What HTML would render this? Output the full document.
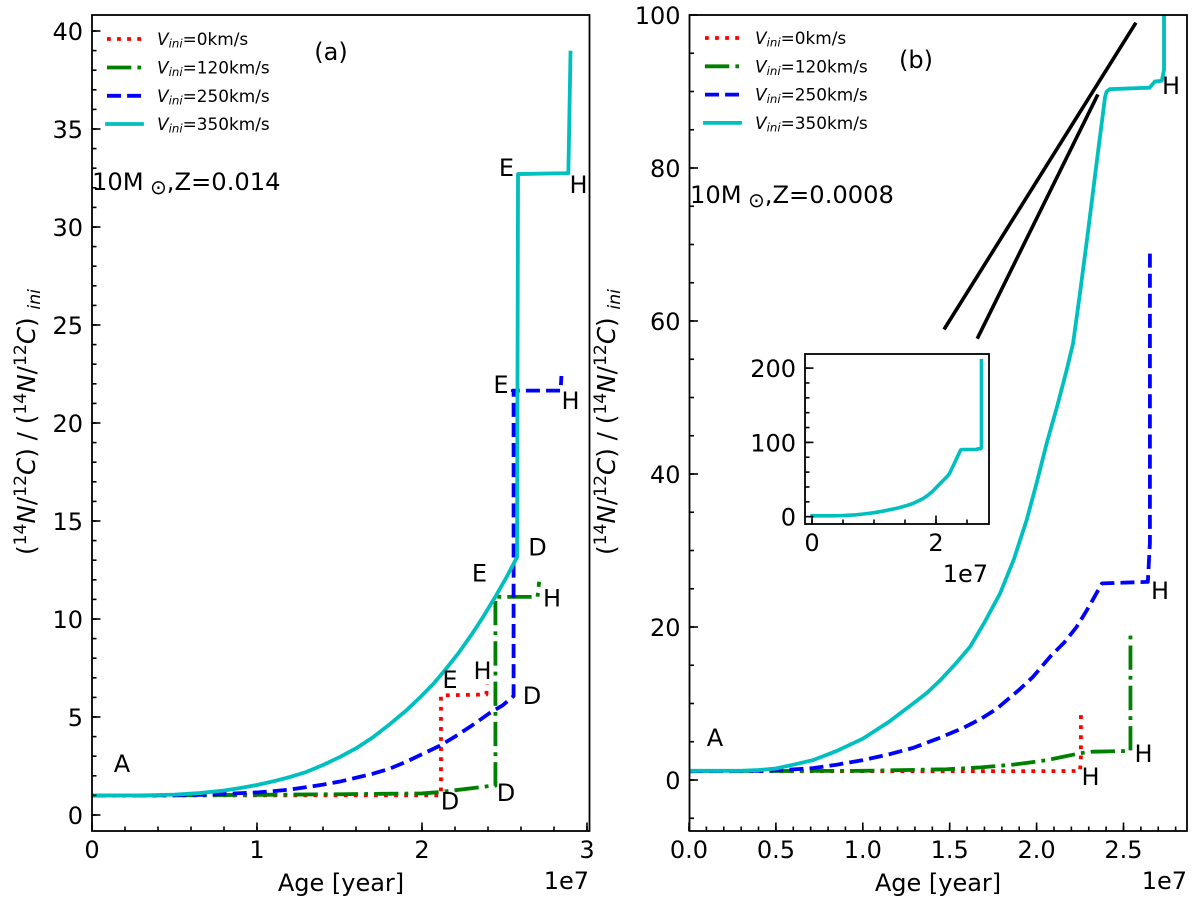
<!DOCTYPE html>
<html lang="en">
<head>
<meta charset="utf-8">
<title>14N/12C ratio vs age</title>
<style>
html,body{margin:0;padding:0;background:#fff;}
svg{display:block;}
text{font-family:"DejaVu Sans","Liberation Sans",sans-serif;fill:#000;}
.tick{font-size:24px;}
.anno{font-size:24px;text-anchor:middle;}
.leg{font-size:16.9px;}
.axl{font-size:24px;}
.yl{font-size:24.6px;}
</style>
</head>
<body>
<svg id="chart" xmlns="http://www.w3.org/2000/svg" width="1200" height="907" viewBox="0 0 1200 907">
  <defs>
    <clipPath id="clip-a"><rect x="92" y="15" width="497" height="816"/></clipPath>
    <clipPath id="clip-b"><rect x="689.5" y="15" width="497.5" height="816"/></clipPath>
    <clipPath id="clip-c"><rect x="805" y="354" width="184" height="170"/></clipPath>
  </defs>
  <g id="panel-a"></g>
  <g id="panel-b"></g>
  <rect x="805" y="354" width="184" height="170" fill="#fff"/>
  <g id="panel-c"></g>

  <g>
    <g>
      <line x1="107" x2="141" y1="39" y2="39" stroke="#ff0000" stroke-width="3.8" stroke-dasharray="3.8 6.27"/>
      <text class="leg" x="157" y="45"><tspan font-style="italic">V</tspan><tspan font-style="italic" font-size="11.8" dy="2.5">ini</tspan><tspan dy="-2.5">=0km/s</tspan></text>
    </g>
    <g>
      <line x1="107" x2="141" y1="67.5" y2="67.5" stroke="#008000" stroke-width="3.8" stroke-dasharray="24.3 6.1 3.8 6.1"/>
      <text class="leg" x="157" y="73.5"><tspan font-style="italic">V</tspan><tspan font-style="italic" font-size="11.8" dy="2.5">ini</tspan><tspan dy="-2.5">=120km/s</tspan></text>
    </g>
    <g>
      <line x1="107" x2="141" y1="95.8" y2="95.8" stroke="#0000ff" stroke-width="3.8" stroke-dasharray="14 6.1"/>
      <text class="leg" x="157" y="101.8"><tspan font-style="italic">V</tspan><tspan font-style="italic" font-size="11.8" dy="2.5">ini</tspan><tspan dy="-2.5">=250km/s</tspan></text>
    </g>
    <g>
      <line x1="107" x2="142" y1="124" y2="124" stroke="#00bfbf" stroke-width="3.8" stroke-linecap="square"/>
      <text class="leg" x="157" y="130"><tspan font-style="italic">V</tspan><tspan font-style="italic" font-size="11.8" dy="2.5">ini</tspan><tspan dy="-2.5">=350km/s</tspan></text>
    </g>
  </g>

  <g>
    <g>
      <line x1="705" x2="739" y1="38" y2="38" stroke="#ff0000" stroke-width="3.8" stroke-dasharray="3.8 6.27"/>
      <text class="leg" x="755" y="44"><tspan font-style="italic">V</tspan><tspan font-style="italic" font-size="11.8" dy="2.5">ini</tspan><tspan dy="-2.5">=0km/s</tspan></text>
    </g>
    <g>
      <line x1="705" x2="739" y1="66.3" y2="66.3" stroke="#008000" stroke-width="3.8" stroke-dasharray="24.3 6.1 3.8 6.1"/>
      <text class="leg" x="755" y="72.3"><tspan font-style="italic">V</tspan><tspan font-style="italic" font-size="11.8" dy="2.5">ini</tspan><tspan dy="-2.5">=120km/s</tspan></text>
    </g>
    <g>
      <line x1="705" x2="739" y1="94.6" y2="94.6" stroke="#0000ff" stroke-width="3.8" stroke-dasharray="14 6.1"/>
      <text class="leg" x="755" y="100.6"><tspan font-style="italic">V</tspan><tspan font-style="italic" font-size="11.8" dy="2.5">ini</tspan><tspan dy="-2.5">=250km/s</tspan></text>
    </g>
    <g>
      <line x1="705" x2="740" y1="122.9" y2="122.9" stroke="#00bfbf" stroke-width="3.8" stroke-linecap="square"/>
      <text class="leg" x="755" y="128.9"><tspan font-style="italic">V</tspan><tspan font-style="italic" font-size="11.8" dy="2.5">ini</tspan><tspan dy="-2.5">=350km/s</tspan></text>
    </g>
  </g>

  <g>
    <text class="anno" x="331" y="60">(a)</text>
    <text font-size="24.2" x="92" y="190">10M<tspan font-size="20" dy="4"> ⊙</tspan><tspan dy="-4">,Z=0.014</tspan></text>
    <text class="anno" x="122" y="772">A</text>
    <text class="anno" x="506.5" y="176">E</text>
    <text class="anno" x="578.5" y="193">H</text>
    <text class="anno" x="501" y="393">E</text>
    <text class="anno" x="570.5" y="409">H</text>
    <text class="anno" x="537.5" y="555.5">D</text>
    <text class="anno" x="479.5" y="581.5">E</text>
    <text class="anno" x="552" y="606.5">H</text>
    <text class="anno" x="450" y="688">E</text>
    <text class="anno" x="482.5" y="679">H</text>
    <text class="anno" x="532" y="704">D</text>
    <text class="anno" x="506" y="801">D</text>
    <text class="anno" x="450" y="809.5">D</text>
  </g>

  <g>
    <text class="anno" x="916" y="68">(b)</text>
    <text font-size="24.2" x="690" y="203">10M<tspan font-size="20" dy="4"> ⊙</tspan><tspan dy="-4">,Z=0.0008</tspan></text>
    <text class="anno" x="715" y="746">A</text>
    <text class="anno" x="1171" y="94">H</text>
    <text class="anno" x="1160" y="599">H</text>
    <text class="anno" x="1143.5" y="762">H</text>
    <text class="anno" x="1090.5" y="785">H</text>
  </g>

  <text class="axl" x="341" y="891" text-anchor="middle">Age [year]</text>
  <text class="axl" x="938" y="891" text-anchor="middle">Age [year]</text>
  <text class="tick" x="589" y="889" text-anchor="end">1e7</text>
  <text class="tick" x="1187" y="889" text-anchor="end">1e7</text>
  <text class="tick" x="988" y="582" text-anchor="end">1e7</text>

  <text class="yl" transform="translate(35 555) rotate(-90)">(<tspan font-size="17.2" dy="-9">14</tspan><tspan font-style="italic" dy="9">N</tspan>/<tspan font-size="17.2" dy="-9">12</tspan><tspan font-style="italic" dy="9">C</tspan>) / (<tspan font-size="17.2" dy="-9">14</tspan><tspan font-style="italic" dy="9">N</tspan>/<tspan font-size="17.2" dy="-9">12</tspan><tspan font-style="italic" dy="9">C</tspan>) <tspan font-style="italic" font-size="17.2" dy="5">ini</tspan></text>
  <text class="yl" transform="translate(615 555) rotate(-90)">(<tspan font-size="17.2" dy="-9">14</tspan><tspan font-style="italic" dy="9">N</tspan>/<tspan font-size="17.2" dy="-9">12</tspan><tspan font-style="italic" dy="9">C</tspan>) / (<tspan font-size="17.2" dy="-9">14</tspan><tspan font-style="italic" dy="9">N</tspan>/<tspan font-size="17.2" dy="-9">12</tspan><tspan font-style="italic" dy="9">C</tspan>) <tspan font-style="italic" font-size="17.2" dy="5">ini</tspan></text>
</svg>

<script>
// Panel (a): Z=0.014 — age in units of 1e7 yr, ratio normalised to initial
const aRedAge = [0, 1, 2, 2.11, 2.115, 2.115, 2.39, 2.395];
const aRedRatio = [1, 1, 1, 1, 1.12, 6.1, 6.15, 6.67];
const aGreenAge = [0, 0.5, 1, 1.5, 2, 2.11, 2.43, 2.445, 2.445, 2.70, 2.71];
const aGreenRatio = [1, 1, 1.03, 1.06, 1.1, 1.17, 1.5, 1.5, 11.13, 11.13, 11.9];
const aBlueAge = [0, 0.4, 0.655, 0.8, 1, 1.1, 1.2, 1.3, 1.4, 1.5, 1.6, 1.7, 1.8, 1.9, 2, 2.1, 2.2, 2.3, 2.41, 2.49, 2.555, 2.555, 2.55, 2.84, 2.845];
const aBlueRatio = [1, 1, 1.03, 1.08, 1.15, 1.22, 1.3, 1.42, 1.55, 1.7, 1.9, 2.1, 2.35, 2.7, 3.1, 3.5, 4, 4.55, 5.2, 5.6, 6.07, 21.65, 21.65, 21.65, 22.4];
const aCyanAge = [0, 0.3, 0.5, 0.655, 0.8, 0.9, 1, 1.1, 1.2, 1.3, 1.4, 1.5, 1.6, 1.7, 1.8, 1.9, 2, 2.07, 2.14, 2.22, 2.3, 2.37, 2.44, 2.51, 2.576, 2.582, 2.887, 2.90];
const aCyanRatio = [1, 1, 1.04, 1.12, 1.25, 1.38, 1.53, 1.72, 1.94, 2.2, 2.55, 2.95, 3.4, 3.95, 4.6, 5.3, 6.1, 6.7, 7.4, 8.25, 9.2, 10.1, 11.07, 12.1, 13.15, 32.7, 32.75, 38.9];
const aXTicks = [0, 1, 2, 3];
const aXTickLabels = ['0', '1', '2', '3'];
const aYTicks = [0, 5, 10, 15, 20, 25, 30, 35, 40];
const aYTickLabels = ['0', '5', '10', '15', '20', '25', '30', '35', '40'];

// Panel (b): Z=0.0008
const bRedAge = [0, 1, 2, 2.25, 2.255, 2.255];
const bRedRatio = [1.15, 1.15, 1.15, 1.18, 3, 8.5];
const bGreenAge = [0, 0.5, 1, 1.48, 1.68, 1.86, 1.95, 2.06, 2.25, 2.32, 2.54, 2.54, 2.54];
const bGreenRatio = [1.18, 1.18, 1.2, 1.4, 1.65, 2, 2.25, 2.6, 3.5, 3.7, 3.8, 10, 19];
const bBlueAge = [0, 0.43, 0.57, 0.714, 0.85, 1, 1.15, 1.29, 1.43, 1.577, 1.68, 1.77, 1.90, 1.98, 2.077, 2.16, 2.23, 2.3, 2.376, 2.64, 2.652, 2.652];
const bBlueRatio = [1.15, 1.2, 1.35, 1.55, 2, 2.6, 3.35, 4.2, 5.4, 6.8, 8, 9.3, 11.8, 13.5, 16.1, 18, 20, 22.6, 25.7, 25.9, 31, 69.5];
const bCyanAge = [0, 0.3, 0.4, 0.5, 0.6, 0.714, 0.85, 1, 1.15, 1.29, 1.37, 1.444, 1.53, 1.617, 1.7, 1.79, 1.87, 1.943, 2.0, 2.058, 2.12, 2.173, 2.21, 2.25, 2.297, 2.345, 2.394, 2.403, 2.42, 2.65, 2.68, 2.72, 2.733, 2.733];
const bCyanRatio = [1.2, 1.2, 1.3, 1.5, 2, 2.6, 3.8, 5.4, 7.6, 10, 11.4, 13, 15.1, 17.4, 20.6, 24.4, 28.9, 34, 38.8, 44, 49, 53.6, 57.1, 63.7, 71.9, 80.6, 89.3, 90, 90.3, 90.5, 91.3, 91.4, 92.8, 210];
const bXTicks = [0, 0.5, 1, 1.5, 2, 2.5];
const bXTickLabels = ['0.0', '0.5', '1.0', '1.5', '2.0', '2.5'];
const bYTicks = [0, 20, 40, 60, 80, 100];
const bYTickLabels = ['0', '20', '40', '60', '80', '100'];
const bGuide1Age = [1.473, 2.566];
const bGuide1Ratio = [59.1, 98.8];
const bGuide2Age = [1.663, 2.348];
const bGuide2Ratio = [57.9, 89.4];

// Inset: same Z=0.0008 fast rotator, full range
const cXTicks = [0, 2];
const cXTickLabels = ['0', '2'];
const cYTicks = [0, 100, 200];
const cYTickLabels = ['0', '100', '200'];

const SVGNS = 'http://www.w3.org/2000/svg';

function makeAxis(x0, pxPerX, y0, pxPerY) {
  return {
    x: function (v) { return x0 + pxPerX * v; },
    y: function (v) { return y0 - pxPerY * v; }
  };
}

const axA = makeAxis(92, 165, 815, 19.6);
const axB = makeAxis(689, 173.8, 780, 7.65);
const axC = makeAxis(812, 62, 516.7, 0.743);

function drawLine(parent, ax, xs, ys, color, dash, clipId, name, width) {
  const el = document.createElementNS(SVGNS, 'polyline');
  const pts = xs.map(function (v, i) { return ax.x(v).toFixed(2) + ',' + ax.y(ys[i]).toFixed(2); });
  el.setAttribute('points', pts.join(' '));
  el.setAttribute('fill', 'none');
  el.setAttribute('stroke', color);
  el.setAttribute('stroke-width', width || 3.8);
  el.setAttribute('stroke-linejoin', 'round');
  if (dash) el.setAttribute('stroke-dasharray', dash);
  else el.setAttribute('stroke-linecap', 'square');
  if (clipId) el.setAttribute('clip-path', 'url(#' + clipId + ')');
  
  
  parent.appendChild(el);
}

function drawTick(parent, x1, y1, x2, y2, name) {
  const el = document.createElementNS(SVGNS, 'line');
  el.setAttribute('x1', x1);
  el.setAttribute('y1', y1);
  el.setAttribute('x2', x2);
  el.setAttribute('y2', y2);
  el.setAttribute('stroke', '#000');
  el.setAttribute('stroke-width', 1.6);
  
  
  parent.appendChild(el);
}

function drawLabel(parent, x, y, anchor, str, name) {
  const el = document.createElementNS(SVGNS, 'text');
  el.setAttribute('class', 'tick');
  el.setAttribute('x', x);
  el.setAttribute('y', y);
  el.setAttribute('text-anchor', anchor);
  el.textContent = str;
  
  
  parent.appendChild(el);
}

function drawFrame(parent, box, name) {
  const el = document.createElementNS(SVGNS, 'rect');
  el.setAttribute('x', box.l);
  el.setAttribute('y', box.t);
  el.setAttribute('width', box.r - box.l);
  el.setAttribute('height', box.b - box.t);
  el.setAttribute('fill', 'none');
  el.setAttribute('stroke', '#000');
  el.setAttribute('stroke-width', 1.8);
  
  
  parent.appendChild(el);
}

function drawAxes(parent, ax, box, opt) {
  const xMinCount = Math.round((box.xMax - 0) / opt.xMinor);
  for (let i = 0; i <= xMinCount; i++) {
    const v = i * opt.xMinor;
    const px = ax.x(v);
    if (px <= box.r) drawTick(parent, px, box.b, px, box.b - 4.5, 'x-minor-tick');
  }
  opt.xTicks.forEach(function (v, i) {
    const px = ax.x(v);
    drawTick(parent, px, box.b, px, box.b - 8.5, 'x-major-tick');
    drawLabel(parent, px, box.b + opt.xLabelGap, 'middle', opt.xLabels[i], 'x-tick-label');
  });
  const yLo = Math.ceil(opt.yLo / opt.yMinor);
  const yHi = Math.floor(opt.yHi / opt.yMinor);
  for (let i = yLo; i <= yHi; i++) {
    const py = ax.y(i * opt.yMinor);
    drawTick(parent, box.l, py, box.l + 4.5, py, 'y-minor-tick');
  }
  opt.yTicks.forEach(function (v, i) {
    const py = ax.y(v);
    drawTick(parent, box.l, py, box.l + 8.5, py, 'y-major-tick');
    drawLabel(parent, box.l - opt.yLabelGap, py + 9, 'end', opt.yLabels[i], 'y-tick-label');
  });
  drawFrame(parent, box, 'axes-frame');
}

const gA = document.getElementById('panel-a');
drawLine(gA, axA, aRedAge, aRedRatio, '#ff0000', '3.8 6.27', 'clip-a', 'series-vini-0');
drawLine(gA, axA, aGreenAge, aGreenRatio, '#008000', '24.3 6.1 3.8 6.1', 'clip-a', 'series-vini-120');
drawLine(gA, axA, aBlueAge, aBlueRatio, '#0000ff', '14 6.1', 'clip-a', 'series-vini-250');
drawLine(gA, axA, aCyanAge, aCyanRatio, '#00bfbf', null, 'clip-a', 'series-vini-350');
drawAxes(gA, axA, { l: 92, r: 589.5, t: 15, b: 831, xMax: 3.02 }, {
  xTicks: aXTicks, xLabels: aXTickLabels, xMinor: 0.2, xLabelGap: 27,
  yTicks: aYTicks, yLabels: aYTickLabels, yMinor: 1, yLo: 0, yHi: 40, yLabelGap: 9
});

const gB = document.getElementById('panel-b');
drawLine(gB, axB, bRedAge, bRedRatio, '#ff0000', '3.8 6.27', 'clip-b', 'series-vini-0');
drawLine(gB, axB, bGreenAge, bGreenRatio, '#008000', '24.3 6.1 3.8 6.1', 'clip-b', 'series-vini-120');
drawLine(gB, axB, bBlueAge, bBlueRatio, '#0000ff', '14 6.1', 'clip-b', 'series-vini-250');
drawLine(gB, axB, bCyanAge, bCyanRatio, '#00bfbf', null, 'clip-b', 'series-vini-350');
drawLine(gB, axB, bGuide1Age, bGuide1Ratio, '#000000', null, 'clip-b', 'inset-guide-line-upper', 3.6);
drawLine(gB, axB, bGuide2Age, bGuide2Ratio, '#000000', null, 'clip-b', 'inset-guide-line-lower', 3.6);
drawAxes(gB, axB, { l: 689.5, r: 1187, t: 15, b: 831, xMax: 2.86 }, {
  xTicks: bXTicks, xLabels: bXTickLabels, xMinor: 0.1, xLabelGap: 27,
  yTicks: bYTicks, yLabels: bYTickLabels, yMinor: 5, yLo: -5, yHi: 100, yLabelGap: 9
});

const gC = document.getElementById('panel-c');
drawLine(gC, axC, bCyanAge, bCyanRatio, '#00bfbf', null, 'clip-c', 'inset-series-vini-350', 3.6);
drawAxes(gC, axC, { l: 805, r: 989, t: 354, b: 524, xMax: 2.85 }, {
  xTicks: cXTicks, xLabels: cXTickLabels, xMinor: 0.5, xLabelGap: 27,
  yTicks: cYTicks, yLabels: cYTickLabels, yMinor: 20, yLo: 0, yHi: 200, yLabelGap: 9
});
</script>
</body>
</html>
